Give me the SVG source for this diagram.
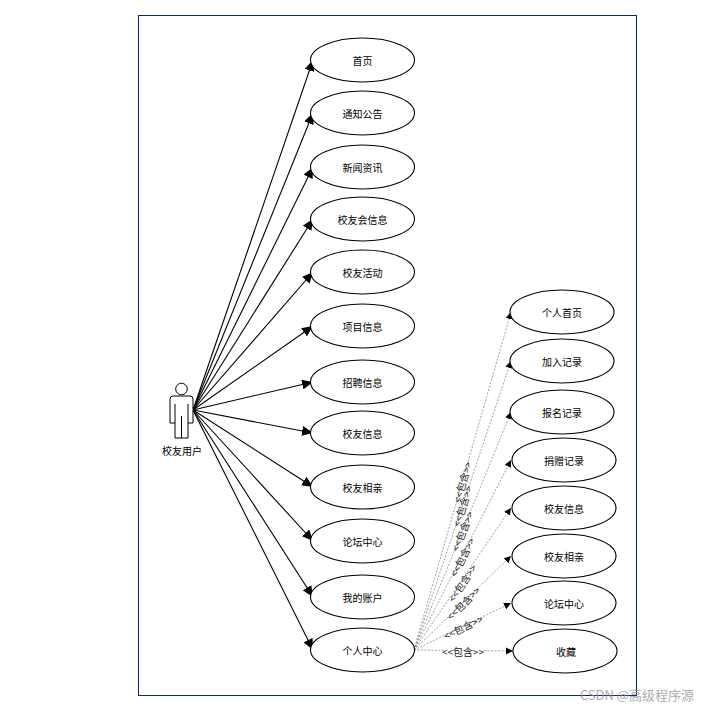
<svg xmlns="http://www.w3.org/2000/svg" width="706" height="707" viewBox="0 0 706 707">
<style>
text{font-family:"Noto Sans CJK SC","Liberation Sans",sans-serif;font-size:10px;fill:#000;text-anchor:middle;dominant-baseline:central}
ellipse{fill:#fff;stroke:#000;stroke-width:1.1}
.s{fill:none;stroke:#000;stroke-width:1.1;marker-end:url(#a)}
.d{fill:none;stroke:#888;stroke-width:.8;stroke-dasharray:2 1.5;marker-end:url(#b)}
.lab{fill:#222}
</style>
<defs>
<marker id="a" markerUnits="userSpaceOnUse" markerWidth="12" markerHeight="10" refX="11" refY="5" orient="auto"><path d="M0 0L11 5L0 10Z" fill="#000"/></marker>
<marker id="b" markerUnits="userSpaceOnUse" markerWidth="8" markerHeight="8" refX="7" refY="3.5" orient="auto"><path d="M0 0L7 3.5L0 7Z" fill="#000"/></marker>
</defs>
<rect width="706" height="707" fill="#fff"/>
<rect x="138.5" y="15.5" width="498" height="680" fill="#fff" stroke="#0b2a6b" stroke-width="1"/>
<g id="connectors">
<path class="s" d="M193 410L313 60"/><path class="s" d="M193 410L313 113"/><path class="s" d="M193 410L313 167"/><path class="s" d="M193 410L313 219"/><path class="s" d="M193 410L313 272"/><path class="s" d="M193 410L313 326"/><path class="s" d="M193 410L313 382"/><path class="s" d="M193 410L313 433"/><path class="s" d="M193 410L313 487"/><path class="s" d="M193 410L313 541"/><path class="s" d="M193 410L313 597"/><path class="s" d="M193 410L313 650"/>
<path class="d" d="M414 650L511 312"/><path class="d" d="M414 650L511 361"/><path class="d" d="M414 650L511 412"/><path class="d" d="M414 650L511 460"/><path class="d" d="M414 650L511 508"/><path class="d" d="M414 650L511 556"/><path class="d" d="M414 650L511 603"/><path class="d" d="M414 650L513 651"/>
<g id="labels">
<g transform="translate(462 482) rotate(-74)"><rect x="-18" y="-5" width="36" height="10" fill="#fff" opacity="0"/><text class="lab">&lt;&lt;包含&gt;&gt;</text></g>
<g transform="translate(462 506) rotate(-72)"><text class="lab">&lt;&lt;包含&gt;&gt;</text></g>
<g transform="translate(462 531) rotate(-68)"><text class="lab">&lt;&lt;包含&gt;&gt;</text></g>
<g transform="translate(462 557) rotate(-63)"><text class="lab">&lt;&lt;包含&gt;&gt;</text></g>
<g transform="translate(462 583) rotate(-56)"><text class="lab">&lt;&lt;包含&gt;&gt;</text></g>
<g transform="translate(463 603) rotate(-45)"><text class="lab">&lt;&lt;包含&gt;&gt;</text></g>
<g transform="translate(463 627) rotate(-26)"><text class="lab">&lt;&lt;包含&gt;&gt;</text></g>
<g transform="translate(463 651)"><rect x="-19" y="-6" width="38" height="12" fill="#fff"/><text class="lab">&lt;&lt;包含&gt;&gt;</text></g>
</g>
</g>
<g id="actor"><circle cx="181.5" cy="389" r="5.8" fill="#fff" stroke="#000"/>
<path d="M173 396H190Q193 396 193 399V423H188V438H175V423H170V399Q170 396 173 396ZM175 404V423M188 404V423M181.5 416V438" fill="#fff" stroke="#000" stroke-width="1"/>
<text x="182" y="450">校友用户</text></g>
<g id="n1"><ellipse cx="362.5" cy="60" rx="52" ry="22"/><text x="362.5" y="60">首页</text></g>
<g id="n2"><ellipse cx="362.5" cy="113" rx="52" ry="22"/><text x="362.5" y="113">通知公告</text></g>
<g id="n3"><ellipse cx="362.5" cy="167" rx="52" ry="22"/><text x="362.5" y="167">新闻资讯</text></g>
<g id="n4"><ellipse cx="362.5" cy="219" rx="52" ry="22"/><text x="362.5" y="219">校友会信息</text></g>
<g id="n5"><ellipse cx="362.5" cy="272" rx="52" ry="22"/><text x="362.5" y="272">校友活动</text></g>
<g id="n6"><ellipse cx="362.5" cy="326" rx="52" ry="22"/><text x="362.5" y="326">项目信息</text></g>
<g id="n7"><ellipse cx="362.5" cy="382" rx="52" ry="22"/><text x="362.5" y="382">招聘信息</text></g>
<g id="n8"><ellipse cx="362.5" cy="433" rx="52" ry="22"/><text x="362.5" y="433">校友信息</text></g>
<g id="n9"><ellipse cx="362.5" cy="487" rx="52" ry="22"/><text x="362.5" y="487">校友相亲</text></g>
<g id="n10"><ellipse cx="362.5" cy="541" rx="52" ry="22"/><text x="362.5" y="541">论坛中心</text></g>
<g id="n11"><ellipse cx="362.5" cy="597" rx="52" ry="22"/><text x="362.5" y="597">我的账户</text></g>
<g id="n12"><ellipse cx="362.5" cy="650" rx="52" ry="22"/><text x="362.5" y="650">个人中心</text></g>
<g id="m1"><ellipse cx="562" cy="312" rx="52" ry="22"/><text x="562" y="312">个人首页</text></g>
<g id="m2"><ellipse cx="562" cy="361" rx="52" ry="22"/><text x="562" y="361">加入记录</text></g>
<g id="m3"><ellipse cx="562" cy="412" rx="52" ry="22"/><text x="562" y="412">报名记录</text></g>
<g id="m4"><ellipse cx="564" cy="460" rx="52" ry="22"/><text x="564" y="460">捐赠记录</text></g>
<g id="m5"><ellipse cx="564" cy="508" rx="52" ry="22"/><text x="564" y="508">校友信息</text></g>
<g id="m6"><ellipse cx="564" cy="556" rx="52" ry="22"/><text x="564" y="556">校友相亲</text></g>
<g id="m7"><ellipse cx="564" cy="603" rx="52" ry="22"/><text x="564" y="603">论坛中心</text></g>
<g id="m8"><ellipse cx="565" cy="651" rx="52" ry="22"/><text x="566" y="651">收藏</text></g>
<text x="637" y="694" style="font-size:13px;fill:#999;opacity:.8">CSDN @高级程序源</text>
</svg>
